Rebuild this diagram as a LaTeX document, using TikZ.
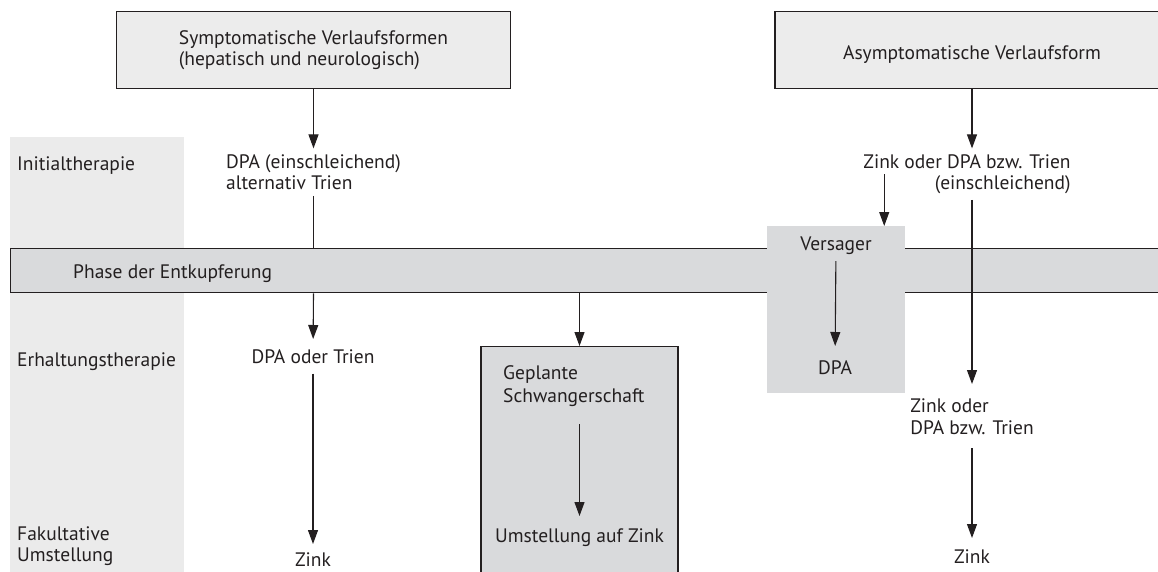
\documentclass[tikz,border=0pt]{standalone}
\usepackage{fontspec}
\setmainfont{PT Sans}
\usepackage{xcolor}
\usetikzlibrary{arrows.meta,positioning}

\definecolor{boxgray}{HTML}{ECECEC}
\definecolor{colgray}{HTML}{EBEBEB}
\definecolor{bandgray}{HTML}{D9DADC}
\definecolor{inkgray}{HTML}{231F20}

\begin{document}
\begin{tikzpicture}[x=1pt, y=-1pt,
every node/.style={font=\fontsize{19.5}{21}\selectfont, text=inkgray, inner sep=6pt},
topbox/.style={draw=inkgray, line width=1.4pt, fill=boxgray, minimum width=394pt, minimum height=77pt, anchor=north, align=left},
stagecol/.style={fill=colgray, minimum width=174pt, minimum height=450pt, anchor=north west, inner sep=0pt},
band/.style={draw=inkgray, line width=1.4pt, fill=bandgray, minimum width=1160pt, minimum height=44pt, anchor=north west, inner sep=0pt},
failbox/.style={fill=bandgray, minimum width=138pt, minimum height=167pt, anchor=north west, inner sep=0pt},
pregbox/.style={draw=inkgray, line width=1.2pt, fill=bandgray, minimum width=197pt, minimum height=260pt, anchor=north, inner sep=0pt},
arrow/.style={-{Triangle[width=10pt,length=14pt]}, line width=1.1pt, draw=inkgray},
plain/.style={line width=1.1pt, draw=inkgray}
]
\useasboundingbox (0,0) rectangle (1158,571);
\clip (0,0) rectangle (1158,571);
% Stufen links
\node[stagecol] (stages) at (10,137) {};
\node[anchor=west] (initial) at (11,166) {Initialtherapie};
\node[anchor=west] (maint) at (11,362) {Erhaltungstherapie};
\node[anchor=west, align=left] (optional) at (11,546) {Fakultative\\Umstellung};
% Phase der Entkupferung
\node[band] (phase) at (10,248) {};
\node[anchor=west] (phaselbl) at (67,274) {Phase der Entkupferung};
\node[failbox] (versager) at (767,226) {};
\node[anchor=north] (versagerlbl) at (836,231) {Versager};
% Verlaufsformen
\node[topbox] (symp) at (313.5,11) {Symptomatische Verlaufsformen\\(hepatisch und neurologisch)};
\node[topbox, align=center, text height=22pt] (asym) at (972,11) {Asymptomatische Verlaufsform};
% linker Zweig
\node[below=59pt of symp, align=left] (dpainit) {DPA (einschleichend)\\alternativ Trien};
\node[anchor=north, inner ysep=10pt] (dpaerh) at (313,339) {DPA oder Trien};
\node[anchor=north, inner ysep=8pt] (zinkleft) at (313,544) {Zink};
% Schwangerschaft
\node[pregbox] (preg) at (579.5,346) {};
\node[anchor=north west, align=left] (plan) at (497,359) {Geplante\\[2pt]Schwangerschaft};
\node[anchor=north, inner ysep=12pt] (umst) at (579.5,516) {Umstellung auf Zink};
% rechter Zweig
\node[below=59pt of asym, xshift=-5pt, align=right] (zinkinit) {Zink oder DPA bzw. Trien\\(einschleichend)};
\node[anchor=north, inner ysep=14pt] (dpavers) at (835,346) {DPA};
\node[anchor=north, align=left, inner ysep=14pt] (zinkerh) at (972,384) {Zink oder\\[1pt]DPA bzw. Trien};
\node[anchor=north, inner ysep=11pt] (zinkright) at (972,538) {Zink};
\coordinate (vstart) at ([xshift=27pt]zinkinit.west);

\draw[arrow] (symp) -- (dpainit);
\draw[plain] (dpainit) -- (dpainit |- phase.north);
\draw[arrow] (dpainit |- phase.south) -- (dpaerh);
\draw[arrow] (dpaerh) -- (zinkleft);
\draw[arrow] (umst |- phase.south) -- (preg.north);
\draw[arrow] ([yshift=-12pt]plan.south -| umst) -- (umst);
\draw[arrow] (asym) -- (asym |- zinkinit.north);
\draw[arrow] (vstart) -- (vstart |- versager.north);
\draw[arrow] (versagerlbl) -- (dpavers);
\draw[arrow] (asym |- zinkinit.south) -- (zinkerh);
\draw[arrow] (zinkerh) -- (zinkright);
\end{tikzpicture}
\end{document}
